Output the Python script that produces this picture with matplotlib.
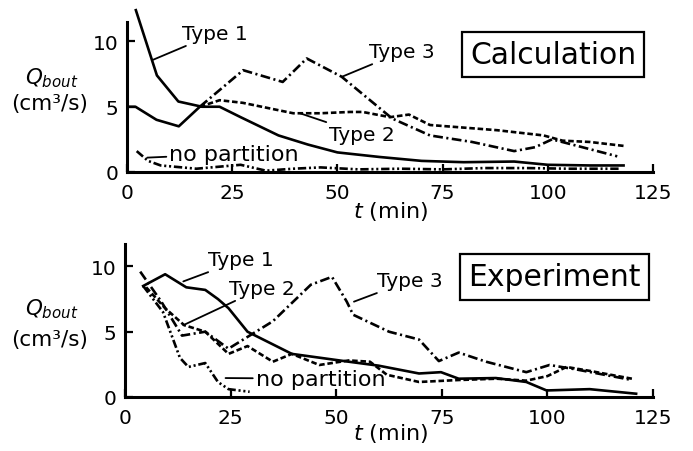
import matplotlib
matplotlib.use('Agg')
import matplotlib.pyplot as plt

plt.rcParams['font.family'] = 'DejaVu Sans'
plt.rcParams['mathtext.fontset'] = 'dejavusans'
plt.rcParams['lines.scale_dashes'] = False

# ---- Calculation (top panel) ----
t_init_c = [0, 2, 7, 12.3, 17.3]
q_init_c = [5.0, 5.0, 4.0, 3.5, 5.0]

t1_c = [2.1, 7.1, 12.2, 17.8, 22, 27, 36, 43, 50, 60, 70, 80, 92, 100, 110, 118]
q1_c = [12.4, 7.4, 5.4, 5.0, 5.0, 4.2, 2.8, 2.1, 1.5, 1.15, 0.85, 0.75, 0.8, 0.55, 0.5, 0.5]

t2_c = [17.3, 22, 27.5, 39.5, 46, 53, 56, 62.5, 67, 72, 80, 88, 99, 103.5, 110, 118]
q2_c = [5.0, 5.5, 5.3, 4.5, 4.5, 4.6, 4.6, 4.2, 4.4, 3.6, 3.4, 3.2, 2.8, 2.4, 2.3, 2.0]

t3_c = [17.3, 27.6, 37, 42.7, 51, 63, 72, 82, 92, 97, 101, 107, 116.5]
q3_c = [5.0, 7.8, 6.9, 8.7, 7.3, 4.1, 2.8, 2.3, 1.6, 1.9, 2.5, 2.0, 1.2]

tn_c = [2.3, 5, 8, 16.5, 27, 33, 39.5, 46, 55, 65, 75, 85, 95, 105, 117]
qn_c = [1.6, 0.85, 0.5, 0.25, 0.55, 0.1, 0.25, 0.35, 0.2, 0.25, 0.2, 0.3, 0.3, 0.25, 0.25]

# ---- Experiment (bottom panel) ----
t1_e = [4.3, 9.5, 14.5, 19, 22, 24.5, 29, 39.5, 53, 60, 69.6, 74.8, 79, 87.8, 95, 99.8, 110, 121]
q1_e = [8.5, 9.4, 8.4, 8.2, 7.5, 6.8, 5.0, 3.3, 2.7, 2.4, 1.8, 1.9, 1.4, 1.45, 1.15, 0.5, 0.6, 0.25]

t2_e = [5, 9.5, 14, 19, 24.5, 29, 35, 39.5, 46, 53, 58, 62, 69.6, 79, 88, 95, 100, 104.5, 110, 120]
q2_e = [8.4, 6.8, 5.5, 5.0, 3.3, 3.9, 2.7, 3.3, 2.45, 2.8, 2.7, 1.7, 1.15, 1.3, 1.4, 1.25, 1.6, 2.3, 2.0, 1.4]

t3_e = [3.6, 8.6, 13.5, 19, 24.5, 35, 44, 49, 52.5, 54, 62.5, 69.6, 74.3, 79, 85.5, 95, 100.5, 107, 120]
q3_e = [9.6, 7.3, 4.7, 5.0, 3.7, 5.8, 8.6, 9.2, 7.3, 6.3, 5.0, 4.4, 2.75, 3.4, 2.7, 1.9, 2.45, 2.1, 1.3]

tn_e = [4.3, 9, 13, 15, 19, 22, 24.5, 29.5]
qn_e = [8.5, 6.5, 3.0, 2.3, 2.6, 1.15, 0.6, 0.4]

x_ticks = [0, 25, 50, 75, 100, 125]
y_ticks = [0, 5, 10]

lw = 1.9
dash_t2 = (0, (4, 2))
dash_t3 = (0, (7, 2.5, 1.5, 2.5))
dash_np = (0, (6, 2, 1.5, 2, 1.5, 2))

fig = plt.figure(figsize=(6.93, 4.52), dpi=100)
ax1 = fig.add_axes([0.1833, 0.6173, 0.759, 0.332])
ax2 = fig.add_axes([0.1804, 0.1195, 0.7619, 0.338])


def style(ax, ytop):
    ax.set_xlim(0, 125)
    ax.set_ylim(0, ytop)
    for s in ['top', 'right']:
        ax.spines[s].set_visible(False)
    for s in ['left', 'bottom']:
        ax.spines[s].set_linewidth(2.2)
    ax.set_xticks(x_ticks)
    ax.set_yticks(y_ticks)
    ax.tick_params(axis='both', direction='in', length=6, width=1.6, labelsize=14.5)
    ax.tick_params(axis='x', pad=8)
    ax.tick_params(axis='y', pad=6)


def leader(ax, txt, xy, xytext, size=14.5):
    ax.annotate(txt, xy=xy, xytext=xytext, fontsize=size, ha='left', va='center',
                arrowprops=dict(arrowstyle='-', lw=1.3, color='k',
                                shrinkA=0, shrinkB=0), annotation_clip=False)


# top panel
ax1.plot(t_init_c, q_init_c, color='k', lw=lw)
ax1.plot(t1_c, q1_c, color='k', lw=lw, clip_on=False)
ax1.plot(t2_c, q2_c, color='k', lw=lw, linestyle=dash_t2)
ax1.plot(t3_c, q3_c, color='k', lw=lw, linestyle=dash_t3)
ax1.plot(tn_c, qn_c, color='k', lw=lw, linestyle=dash_np)
style(ax1, 11.5)

leader(ax1, 'Type 1', (6.2, 8.6), (13.1, 10.6))
leader(ax1, 'Type 3', (51.1, 7.3), (57.5, 9.2))
leader(ax1, 'Type 2', (41.1, 4.5), (48.0, 2.9))
leader(ax1, 'no partition', (4.8, 1.1), (10.0, 1.4), size=16)

# bottom panel
ax2.plot(t1_e, q1_e, color='k', lw=lw)
ax2.plot(t2_e, q2_e, color='k', lw=lw, linestyle=dash_t2)
ax2.plot(t3_e, q3_e, color='k', lw=lw, linestyle=dash_t3)
ax2.plot(tn_e, qn_e, color='k', lw=lw, linestyle=dash_np)
style(ax2, 11.7)

leader(ax2, 'Type 1', (13.8, 8.85), (19.7, 10.5))
leader(ax2, 'Type 2', (13.8, 5.5), (24.5, 8.3))
leader(ax2, 'Type 3', (54.2, 7.3), (59.6, 8.9))
leader(ax2, 'no partition', (23.8, 1.45), (30.9, 1.4), size=16)

box = dict(boxstyle='square,pad=0.27', facecolor='white', edgecolor='k', lw=1.6)
fig.text(0.798, 0.878, 'Calculation', fontsize=21.5, ha='center', va='center', bbox=box)
fig.text(0.800, 0.385, 'Experiment', fontsize=21.5, ha='center', va='center', bbox=box)

# axis labels
for yq, yu in [(0.827, 0.770), (0.315, 0.248)]:
    fig.text(0.075, yq, '$Q_{bout}$', fontsize=15.5, ha='center', va='center')
    fig.text(0.072, yu, '(cm³/s)', fontsize=15.5, ha='center', va='center')
fig.text(0.563, 0.531, '$t$ (min)', fontsize=16, ha='center', va='center')
fig.text(0.563, 0.042, '$t$ (min)', fontsize=16, ha='center', va='center')

fig.savefig('out.png', dpi=100)
